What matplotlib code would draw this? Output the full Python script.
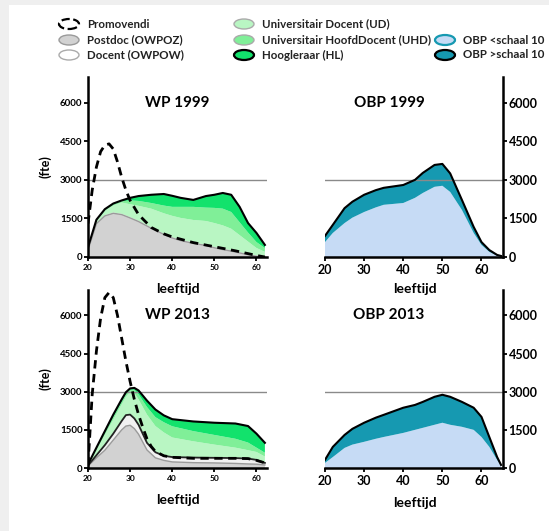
import numpy as np
import matplotlib
matplotlib.use("Agg")
import matplotlib.pyplot as plt
from matplotlib.patches import Ellipse, Rectangle

plt.rcParams['font.family'] = ['Lato', 'DejaVu Sans']
plt.rcParams['font.weight'] = 'bold'

# ---- WP 1999 (stacked fte per layer) ----
wp99_age = [20, 22, 24, 26, 28, 30, 32, 35, 38, 40, 42, 45, 48, 50, 52, 54, 56, 58, 60, 62]
wp99_postdoc = [270, 1300, 1600, 1700, 1650, 1520, 1380, 1120, 880, 740, 640, 530, 450, 360, 290, 230, 160, 90, 30, 0]
wp99_docent = [10, 20, 30, 30, 30, 30, 30, 30, 30, 30, 30, 30, 30, 30, 30, 30, 30, 30, 30, 20]
wp99_ud = [50, 80, 170, 270, 440, 500, 580, 730, 790, 830, 850, 880, 920, 930, 910, 840, 660, 480, 290, 180]
wp99_uhd = [20, 20, 30, 40, 50, 150, 190, 220, 300, 350, 430, 510, 520, 590, 650, 650, 500, 350, 230, 150]
wp99_hl = [30, 30, 30, 40, 30, 100, 190, 320, 450, 430, 350, 270, 450, 510, 610, 670, 600, 370, 355, 120]
wp99_promo_age = [20, 21, 22, 23, 24, 25, 26, 27, 28, 29, 30, 32, 35, 38, 40, 45, 50, 55, 60, 62]
wp99_promo = [1300, 2600, 3500, 4100, 4350, 4400, 4200, 3700, 3100, 2600, 2200, 1650, 1150, 900, 780, 560, 400, 240, 60, 0]

# ---- WP 2013 ----
wp13_age = [20, 22, 24, 26, 28, 29, 30, 31, 32, 34, 36, 38, 40, 45, 50, 55, 58, 60, 62]
wp13_postdoc = [80, 400, 700, 1100, 1500, 1650, 1680, 1550, 1330, 710, 400, 300, 240, 210, 200, 180, 160, 150, 120]
wp13_docent = [20, 100, 200, 250, 350, 430, 420, 400, 370, 280, 220, 180, 190, 200, 200, 210, 210, 170, 80]
wp13_ud = [20, 200, 400, 550, 650, 720, 900, 1000, 1000, 1110, 1030, 920, 770, 640, 520, 410, 330, 310, 250]
wp13_uhd = [10, 50, 80, 100, 100, 100, 80, 130, 200, 300, 350, 400, 440, 400, 380, 350, 300, 170, 150]
wp13_hl = [10, 50, 70, 100, 100, 80, 50, 70, 150, 250, 300, 270, 280, 380, 480, 600, 650, 550, 390]
wp13_promo_age = [20, 21, 22, 23, 24, 25, 26, 27, 28, 29, 30, 31, 32, 33, 34, 35, 36, 38, 40, 45, 50, 55, 58, 60, 62]
wp13_promo = [100, 2900, 4600, 5900, 6700, 6900, 6700, 6000, 5100, 4200, 3400, 2700, 2100, 1600, 1150, 850, 650, 480, 420, 380, 380, 380, 370, 300, 200]

# ---- OBP ----
obp_age = [20, 22, 25, 27, 30, 33, 35, 40, 43, 45, 48, 50, 52, 55, 58, 60, 62, 64, 65]
obp99_low = [580, 935, 1320, 1530, 1750, 1930, 2030, 2100, 2300, 2490, 2730, 2770, 2530, 1830, 935, 470, 200, 50, 20]
obp99_high = [240, 315, 580, 620, 670, 670, 660, 700, 700, 780, 850, 850, 720, 390, 235, 110, 70, 30, 20]
obp13_low = [200, 430, 790, 920, 1030, 1150, 1220, 1380, 1500, 1580, 1700, 1780, 1700, 1620, 1500, 1220, 830, 320, 100]
obp13_high = [120, 400, 510, 620, 750, 830, 870, 990, 980, 1020, 1100, 1100, 1100, 980, 870, 790, 390, 110, 20]

yticks = [0, 1500, 3000, 4500, 6000]
xticks = [20, 30, 40, 50, 60]

c_postdoc = '#d2d2d2'
c_docent = '#f1f1f1'
c_ud = '#b9f6c3'
c_uhd = '#80ef98'
c_hl = '#12e26c'
c_low = '#c6dbf5'
c_high = '#1699b1'

W, H = 549, 531
fig = plt.figure(figsize=(W / 100, H / 100), dpi=100)
fig.patch.set_facecolor('#efefef')
fig.add_artist(Rectangle((9 / W, 0), 1, 1 - 5 / H, transform=fig.transFigure,
                         facecolor='white', edgecolor='none', zorder=-10))


def box(x0, x1, ytop, ybot):
    return [x0 / W, 1 - ybot / H, (x1 - x0) / W, (ybot - ytop) / H]


def wp_panel(rect, age, layers, promo_age, promo, title, docent_line):
    ax = fig.add_axes(rect)
    ax.set_facecolor('none')
    ax.stackplot(age, *layers, colors=[c_postdoc, c_docent, c_ud, c_uhd, c_hl], linewidth=0)
    cum = np.cumsum(layers, axis=0)
    ax.plot(age, cum[0], color='#9a9a9a', lw=1.0)
    if docent_line:
        ax.plot(age, cum[1], color='#222222', lw=1.3)
    ax.plot(age, cum[-1], color='black', lw=1.5)
    ax.axhline(3000, color='#8a8a8a', lw=1.0, zorder=1)
    ax.plot(promo_age, promo, color='black', lw=2, ls=(0, (3, 2)), zorder=5)
    ax.set_xlim(20, 62.5)
    ax.set_ylim(0, 7000)
    ax.set_xticks(xticks)
    ax.set_yticks(yticks)
    for s in ['top', 'right']:
        ax.spines[s].set_visible(False)
    for s in ['left', 'bottom']:
        ax.spines[s].set_linewidth(1.8)
    ax.tick_params(axis='x', labelsize=6, width=1.3, length=3, pad=2)
    ax.tick_params(axis='y', labelsize=7, width=1.3, length=3, pad=1)
    ax.text(0.5, 6000, title, transform=ax.get_yaxis_transform(), ha='center', va='center',
            fontsize=11, fontweight='bold')
    ax.set_ylabel('(fte)', fontsize=9, fontweight='bold', labelpad=6)
    return ax


def obp_panel(rect, low, high, title):
    ax = fig.add_axes(rect)
    ax.set_facecolor('none')
    ax.stackplot(obp_age, low, high, colors=[c_low, c_high], linewidth=0)
    ax.plot(obp_age, np.add(low, high), color='black', lw=1.5)
    ax.axhline(3000, color='#8a8a8a', lw=1.0, zorder=1)
    ax.set_xlim(20, 65.5)
    ax.set_ylim(0, 7000)
    ax.set_xticks(xticks)
    ax.set_yticks(yticks)
    ax.yaxis.tick_right()
    for s in ['top', 'left']:
        ax.spines[s].set_visible(False)
    for s in ['right', 'bottom']:
        ax.spines[s].set_linewidth(1.8)
    ax.tick_params(axis='x', labelsize=9, width=1.3, length=3, pad=2)
    ax.tick_params(axis='y', labelsize=9, width=1.3, length=3, pad=1)
    ax.text(0.36, 6000, title, transform=ax.get_yaxis_transform(), ha='center', va='center',
            fontsize=11, fontweight='bold')
    return ax


wp_panel(box(88, 267, 77, 257), wp99_age,
         [wp99_postdoc, wp99_docent, wp99_ud, wp99_uhd, wp99_hl],
         wp99_promo_age, wp99_promo, 'WP 1999', False)
wp_panel(box(88, 267, 290, 468), wp13_age,
         [wp13_postdoc, wp13_docent, wp13_ud, wp13_uhd, wp13_hl],
         wp13_promo_age, wp13_promo, 'WP 2013', True)
obp_panel(box(325, 503, 77, 257), obp99_low, obp99_high, 'OBP 1999')
obp_panel(box(325, 503, 290, 468), obp13_low, obp13_high, 'OBP 2013')

# x labels
for (x, y) in [(178, 289), (415, 289), (178, 500), (415, 503)]:
    fig.text(x / W, 1 - y / H, 'leeftijd', ha='center', va='center', fontsize=10, fontweight='bold')

# legend
legend_items = [
    (69, 24, 'Promovendi', 'white', 'black', 1.6, '--'),
    (69, 40, 'Postdoc (OWPOZ)', c_postdoc, '#9a9a9a', 1.0, '-'),
    (69, 55, 'Docent (OWPOW)', 'white', '#aaaaaa', 1.0, '-'),
    (244, 24, 'Universitair Docent (UD)', c_ud, '#aaaaaa', 1.0, '-'),
    (244, 40, 'Universitair HoofdDocent (UHD)', c_uhd, '#aaaaaa', 1.0, '-'),
    (244, 55, 'Hoogleraar (HL)', c_hl, 'black', 1.6, '-'),
    (445, 40, 'OBP <schaal 10', c_low, c_high, 1.6, '-'),
    (445, 55, 'OBP >schaal 10', c_high, 'black', 1.6, '-'),
]
for (x, y, label, fc, ec, lw, ls) in legend_items:
    fig.add_artist(Ellipse((x / W, 1 - y / H), 20 / W, 10 / H, transform=fig.transFigure,
                           facecolor=fc, edgecolor=ec, lw=lw, ls=ls))
    fig.text((x + 18) / W, 1 - y / H, label, ha='left', va='center', fontsize=8.3, fontweight='bold',
             color='#222222')

fig.savefig('out.png', dpi=100, facecolor=fig.get_facecolor())
